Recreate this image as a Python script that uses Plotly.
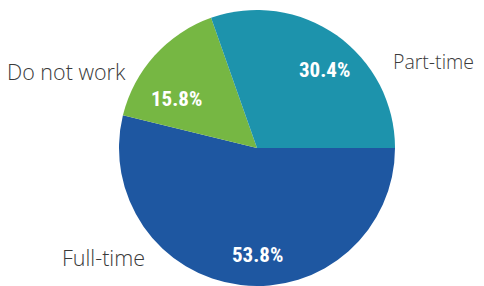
import plotly.graph_objects as go

categories = ["Full-time", "Do not work", "Part-time"]
values = [53.8, 15.8, 30.4]
pct_labels = ["53.8%", "15.8%", "30.4%"]
colors = ["#1E57A1", "#76B743", "#1D93AC"]

W, H = 484, 286
OFF = 8  # page body margin offset

fig = go.Figure(go.Pie(
    labels=categories, values=values, sort=False, direction="clockwise",
    rotation=90, marker=dict(colors=colors, line=dict(width=0)),
    textinfo="none", hoverinfo="none", showlegend=False,
    domain=dict(x=[(119 - OFF)/W, (395 - OFF)/W], y=[1 - (286 - OFF)/H, 1 - (10 - OFF)/H]),
))

# outside category labels
out_pos = {"Full-time": (147, 257, "right", 21.5), "Do not work": (128, 71, "right", 21.5),
           "Part-time": (391, 62, "left", 19.5)}
# percent label positions
pct_pos = {"Full-time": (258, 255), "Do not work": (176, 99), "Part-time": (324, 70)}

for cat, lab in zip(categories, pct_labels):
    x, y, anc, sz = out_pos[cat]
    fig.add_annotation(x=(x - OFF)/W, y=1 - (y - OFF)/H, xref="paper", yref="paper", text=cat,
                       showarrow=False, xanchor=anc, yanchor="middle",
                       font=dict(family="Open Sans", size=sz, color="#3a3a3a", weight=300))
    px, py = pct_pos[cat]
    fig.add_annotation(x=(px - OFF)/W, y=1 - (py - OFF)/H, xref="paper", yref="paper", text=lab,
                       showarrow=False, xanchor="center", yanchor="middle",
                       font=dict(family="Liberation Sans Narrow, Roboto Condensed, Arial Narrow", size=21, color="white", weight="bold"))

fig.update_layout(width=W, height=H, margin=dict(l=0, r=0, t=0, b=0),
                  paper_bgcolor="white", plot_bgcolor="white")
fig.write_html("out.html")
